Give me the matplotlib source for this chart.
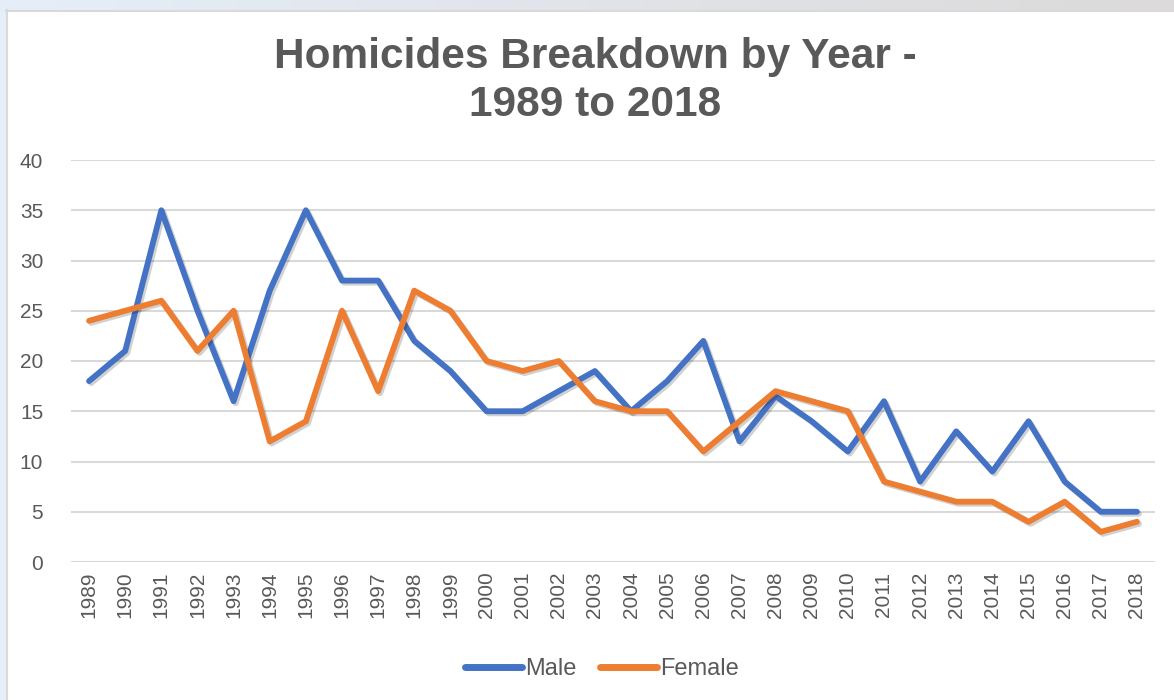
import matplotlib.pyplot as plt
import matplotlib.patheffects as pe
import numpy as np
from matplotlib.patches import Rectangle

years = [str(y) for y in range(1989, 2019)]
male = [18, 21, 35, 25, 16, 27, 35, 28, 28, 22, 19, 15, 15, 17, 19, 15, 18, 22,
        12, 16.5, 14, 11, 16, 8, 13, 9, 14, 8, 5, 5]
female = [24, 25, 26, 21, 25, 12, 14, 25, 17, 27, 25, 20, 19, 20, 16, 15, 15, 11,
          14, 17, 16, 15, 8, 7, 6, 6, 4, 6, 3, 4]

plt.rcParams["font.family"] = ["Liberation Sans", "DejaVu Sans"]
TXT = "#595959"

fig = plt.figure(figsize=(11.74, 7), dpi=100)
fig.patch.set_facecolor("white")

# slide background showing around the chart box
strip = fig.add_axes([0, 1 - 10 / 700, 1, 10 / 700])
grad = np.linspace(0, 1, 256)
c1 = np.array([0.902, 0.933, 0.973])
c2 = np.array([0.863, 0.855, 0.855])
img = (c1[None, :] * (1 - grad[:, None]) + c2[None, :] * grad[:, None])[None, :, :]
strip.imshow(img, aspect="auto", extent=[0, 1, 0, 1])
strip.axis("off")
fig.patches.append(Rectangle((0, 0), 6 / 1174, 1 - 10 / 700, transform=fig.transFigure,
                             facecolor="#E6EEF8", edgecolor="none", zorder=0))
fig.lines.append(plt.Line2D([6.5 / 1174, 6.5 / 1174], [0, 1 - 10 / 700],
                            transform=fig.transFigure, color="#D9D9D9", lw=1.5))
fig.lines.append(plt.Line2D([6 / 1174, 1], [1 - 10.5 / 700, 1 - 10.5 / 700],
                            transform=fig.transFigure, color="#D9D9D9", lw=1.5))

ax = fig.add_axes([71 / 1174, 138 / 700, 1084 / 1174, 402 / 700])
x = np.arange(len(years))
shadow = [pe.SimpleLineShadow(offset=(1.5, -1.5), shadow_color="#000000", alpha=0.18), pe.Normal()]
ax.plot(x, male, color="#4472C4", lw=4.2, label="Male", solid_joinstyle="round",
        solid_capstyle="round", path_effects=shadow, zorder=3)
ax.plot(x, female, color="#ED7D31", lw=4.2, label="Female", solid_joinstyle="round",
        solid_capstyle="round", path_effects=shadow, zorder=4)

ax.set_xlim(-0.5, len(years) - 0.5)
ax.set_ylim(0, 40)
ax.set_yticks(range(0, 41, 5))
ax.set_xticks(x, years, rotation=90)
ax.grid(axis="y", color="#D9D9D9", lw=1.5)
ax.set_axisbelow(True)
for s in ax.spines.values():
    s.set_visible(False)
ax.tick_params(length=0, labelsize=15, colors=TXT)
ax.tick_params(axis="y", pad=20)
ax.tick_params(axis="x", pad=7)

fig.text(0.507, 1 - 81 / 700, "Homicides Breakdown by Year -\n1989 to 2018", ha="center",
         va="center", fontsize=30.5, fontweight="bold", color=TXT, linespacing=1.25)

leg = ax.legend(loc="center", bbox_to_anchor=(0.49, -107 / 402), ncol=2,
                frameon=False, fontsize=17, handlelength=2.4, handletextpad=0.15,
                columnspacing=1.0)
for t in leg.get_texts():
    t.set_color(TXT)
for h in leg.legend_handles:
    h.set_linewidth(5)
    h.set_path_effects([])

fig.savefig("out.png", dpi=100)
